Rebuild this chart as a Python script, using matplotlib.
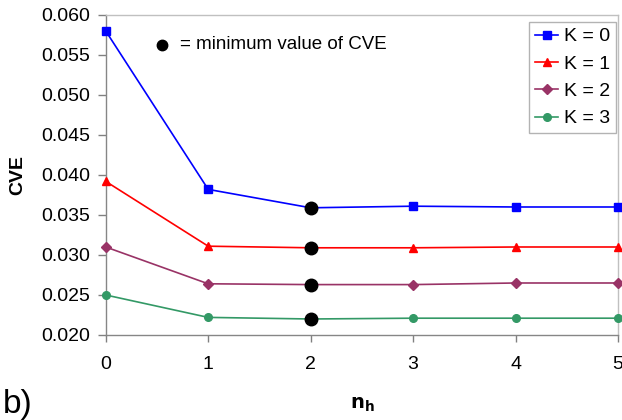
# CVE en función de n_h para distintos K
import numpy as np
import matplotlib
matplotlib.use('Agg')
import matplotlib.pyplot as plt

plt.rcParams['font.family'] = ['Liberation Sans', 'DejaVu Sans']

# Datos
nh = [0, 1, 2, 3, 4, 5]
cve_k0 = [0.0580, 0.0382, 0.0359, 0.0361, 0.0360, 0.0360]
cve_k1 = [0.0392, 0.0311, 0.0309, 0.0309, 0.0310, 0.0310]
cve_k2 = [0.0310, 0.0264, 0.0263, 0.0263, 0.0265, 0.0265]
cve_k3 = [0.0250, 0.0222, 0.0220, 0.0221, 0.0221, 0.0221]
labels = ['K = 0', 'K = 1', 'K = 2', 'K = 3']
min_idx = 2  # posición del mínimo de CVE

series = [cve_k0, cve_k1, cve_k2, cve_k3]
colors = ['#0000ff', '#ff0000', '#993366', '#339966']
markers = ['s', '^', 'D', 'o']
msizes = [5.5, 6, 5, 5.5]

fig = plt.figure(figsize=(6.22, 4.2), dpi=100)
ax = fig.add_axes([0.170, 0.2024, 0.8236, 0.7619])

for ys, c, m, ms, lab in zip(series, colors, markers, msizes, labels):
    ax.plot(nh, ys, color=c, marker=m, markersize=ms, linewidth=1.2,
            label=lab, clip_on=False, zorder=3)

# puntos mínimos
ax.plot([nh[min_idx]] * 4, [s[min_idx] for s in series], 'o', color='black',
        markersize=9, clip_on=False, zorder=4)

ax.set_xlim(0, 5)
ax.set_ylim(0.020, 0.060)
ax.set_xticks(nh)
ax.set_yticks(np.arange(0.020, 0.0601, 0.005))
ax.yaxis.set_major_formatter(matplotlib.ticker.FormatStrFormatter('%.3f'))
ax.tick_params(axis='y', direction='out', length=6, width=1, color='#808080',
               labelsize=14, pad=5)
ax.tick_params(axis='x', direction='out', length=5, width=1, color='#808080',
               labelsize=14, pad=10)

ax.spines['left'].set_color('#868686')
ax.spines['bottom'].set_color('#868686')
ax.spines['top'].set_color('#c0c0c0')
ax.spines['right'].set_color('#c0c0c0')
for s in ax.spines.values():
    s.set_linewidth(1)

# anotación
ax.plot([0.55], [0.05625], 'o', color='black', markersize=7.5, clip_on=False)
ax.text(0.72, 0.05635, '= minimum value of CVE', fontsize=13.5,
        va='center', ha='left')

leg = ax.legend(loc='upper right', bbox_to_anchor=(0.9961, 0.978),
                fontsize=14, frameon=True, fancybox=False, handlelength=1.2,
                handletextpad=0.3, borderpad=0.3, labelspacing=0.5,
                borderaxespad=0)
leg.get_frame().set_edgecolor('#a0a0a0')
leg.get_frame().set_linewidth(1)

fig.text(18 / 622, 1 - 175 / 420, 'CVE', rotation=90, fontsize=14,
         fontweight='bold', ha='center', va='center')
fig.text(362 / 622, 1 - 405 / 420, r'$\mathbf{n_h}$', fontsize=14,
         ha='center', va='center')
fig.text(3 / 622, 1 - 404 / 420, 'b)', fontsize=24, ha='left', va='center')

fig.savefig('out.png', dpi=100)
